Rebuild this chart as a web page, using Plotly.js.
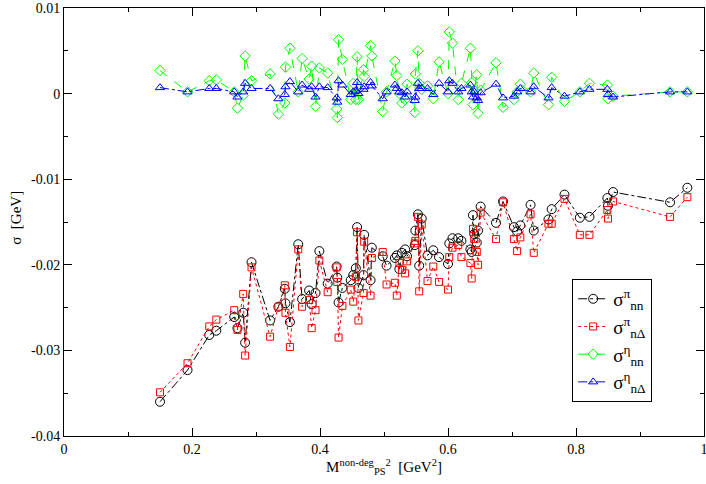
<!DOCTYPE html>
<html>
<head>
<meta charset="utf-8">
<script src="https://cdn.plot.ly/plotly-3.0.1.min.js"></script>
<style>
html,body{margin:0;padding:0;background:#fff;}
#chart{width:706px;height:484px;}
</style>
</head>
<body>
<div id="chart"></div>
<script>
// shared x values: M^2 (GeV^2)
const mass2 = [0.150,0.193,0.227,0.238,0.266,0.271,0.280,0.283,0.293,0.322,
  0.335,0.345,0.346,0.353,0.366,0.372,0.383,0.387,0.393,0.399,
  0.412,0.426,0.427,0.429,0.435,0.448,0.452,0.456,0.458,0.460,
  0.468,0.469,0.479,0.481,0.498,0.504,0.517,0.520,0.524,0.528,
  0.533,0.536,0.548,0.549,0.553,0.555,0.559,0.568,0.577,0.586,
  0.600,0.602,0.607,0.616,0.621,0.635,0.637,0.639,0.641,0.645,
  0.647,0.651,0.675,0.686,0.703,0.708,0.713,0.729,0.734,0.757,
  0.762,0.782,0.806,0.821,0.849,0.850,0.858,0.947,0.974];

const sigmaPiNN = [-0.0360,-0.0323,-0.0282,-0.0277,-0.0261,-0.0274,-0.0256,-0.0291,-0.0197,-0.0265,
  -0.0249,-0.0228,-0.0245,-0.0267,-0.0176,-0.0240,-0.0230,-0.0246,-0.0233,-0.0184,
  -0.0222,-0.0202,-0.0215,-0.0244,-0.0227,-0.0218,-0.0212,-0.0204,-0.0156,-0.0227,
  -0.0212,-0.0165,-0.0218,-0.0180,-0.0190,-0.0201,-0.0192,-0.0189,-0.0205,-0.0186,
  -0.0182,-0.0190,-0.0177,-0.0160,-0.0141,-0.0201,-0.0146,-0.0189,-0.0183,-0.0191,
  -0.0199,-0.0175,-0.0169,-0.0169,-0.0172,-0.0182,-0.0185,-0.0142,-0.0164,-0.0174,
  -0.0160,-0.0132,-0.0151,-0.0126,-0.0156,-0.0161,-0.0154,-0.0130,-0.0160,-0.0147,
  -0.0135,-0.0118,-0.0145,-0.0144,-0.0122,-0.0131,-0.0115,-0.0127,-0.0110];

const sigmaPiND = [-0.0349,-0.0315,-0.0272,-0.0264,-0.0253,-0.0276,-0.0234,-0.0306,-0.0203,-0.0284,
  -0.0249,-0.0224,-0.0256,-0.0296,-0.0182,-0.0249,-0.0241,-0.0274,-0.0253,-0.0195,
  -0.0232,-0.0203,-0.0220,-0.0285,-0.0248,-0.0229,-0.0243,-0.0214,-0.0162,-0.0265,
  -0.0233,-0.0173,-0.0236,-0.0192,-0.0185,-0.0223,-0.0221,-0.0236,-0.0198,-0.0206,
  -0.0210,-0.0196,-0.0175,-0.0172,-0.0144,-0.0231,-0.0153,-0.0219,-0.0202,-0.0220,
  -0.0229,-0.0191,-0.0180,-0.0177,-0.0191,-0.0198,-0.0216,-0.0158,-0.0170,-0.0185,
  -0.0200,-0.0139,-0.0170,-0.0127,-0.0170,-0.0184,-0.0168,-0.0141,-0.0186,-0.0152,
  -0.0152,-0.0123,-0.0165,-0.0165,-0.0136,-0.0146,-0.0126,-0.0144,-0.0121];

const sigmaEtaNN = [0.0027,0.0002,0.0015,0.0016,0.0002,-0.0017,-0.0002,0.0044,0.0015,0.0023,
  -0.0024,-0.0011,0.0031,0.0053,0.0002,0.0041,0.0017,0.0032,-0.0015,0.0030,
  0.0024,-0.0018,-0.0028,0.0063,0.0040,-0.0007,0.0012,-0.0007,0.0043,-0.0007,
  0.0028,0.0020,0.0056,0.0044,-0.0021,0.0002,0.0038,0.0021,0.0000,-0.0011,
  -0.0007,0.0011,-0.0022,0.0023,0.0050,0.0012,0.0005,0.0009,-0.0006,0.0037,
  0.0000,0.0072,0.0059,-0.0007,0.0012,0.0053,0.0013,-0.0013,0.0004,0.0022,
  -0.0023,0.0004,0.0036,-0.0016,-0.0007,0.0002,0.0011,0.0002,0.0024,-0.0013,
  0.0019,-0.0009,0.0002,0.0012,0.0010,-0.0006,-0.0003,0.0002,0.0002];

const sigmaEtaND = [0.0007,0.0002,0.0006,0.0006,0.0002,-0.0004,0.0002,0.0012,0.0006,0.0006,
  -0.0006,-0.0001,0.0008,0.0014,0.0002,0.0010,0.0005,0.0008,-0.0004,0.0008,
  0.0007,-0.0005,-0.0010,0.0015,0.0010,-0.0001,0.0002,0.0003,0.0013,0.0000,
  0.0005,0.0008,0.0013,0.0009,-0.0006,0.0002,0.0010,0.0006,0.0002,0.0001,
  -0.0004,0.0002,-0.0008,-0.0004,0.0012,0.0006,0.0006,0.0006,-0.0001,0.0012,
  0.0002,0.0015,0.0012,0.0002,0.0006,0.0010,0.0002,-0.0004,0.0002,-0.0005,
  -0.0008,0.0001,0.0011,-0.0005,-0.0003,0.0002,0.0006,0.0002,0.0008,-0.0005,
  0.0007,-0.0003,0.0002,0.0005,0.0005,-0.0001,-0.0004,0.0002,0.0002];

const xTickVals = [0,0.2,0.4,0.6,0.8,1];
const xTickText = ['0','0.2','0.4','0.6','0.8','1'];
const yTickVals = [-0.04,-0.03,-0.02,-0.01,0,0.01];
const yTickText = ['-0.04','-0.03','-0.02','-0.01','0','0.01'];

const names = ['σ<sup>π</sup><sub>nn</sub>','σ<sup>π</sup><sub>nΔ</sub>',
               'σ<sup>η</sup><sub>nn</sub>','σ<sup>η</sup><sub>nΔ</sub>'];
const xTitle = 'M<sup>non-deg</sup><sub>PS</sub><sup>2</sup>  [GeV<sup>2</sup>]';
const yTitle = 'σ  [GeV]';

const serif = '"Liberation Serif", "Times New Roman", Times, serif';

function tr(y, name, color, dash, symbol, size){
  return {x: mass2, y: y, name: name, type:'scatter', mode:'lines+markers',
    line:{color:color, width:1, dash:dash},
    marker:{symbol:symbol, size:size, color:color, line:{color:color, width:1}},
    hoverinfo:'skip'};
}

const data = [
  tr(sigmaPiNN, names[0], '#000000', 'dashdot', 'circle-open', 9),
  tr(sigmaPiND, names[1], '#ff0000', 'dot', 'square-open', 7),
  tr(sigmaEtaNN, names[2], '#00ff00', 'dash', 'diamond-open', 8),
  tr(sigmaEtaND, names[3], '#0000ff', 'dashdot', 'triangle-up-open', 8)
];

const axisCommon = {
  showgrid:false, zeroline:false, showline:true, linecolor:'#000', linewidth:1,
  mirror:'ticks', ticks:'inside', ticklen:8, tickwidth:1, tickcolor:'#000',
  ticklabeloverflow:'allow',
  tickfont:{family:serif, size:14, color:'#000'}
};

const layout = {
  width:706, height:484,
  margin:{l:64, r:2, t:8, b:48},
  paper_bgcolor:'#fff', plot_bgcolor:'#fff',
  font:{family:serif, color:'#000'},
  showlegend:true,
  xaxis: Object.assign({}, axisCommon, {
    range:[0,1], tickmode:'array', tickvals:xTickVals, ticktext:xTickText,
    minor:{dtick:0.1, tick0:0, ticks:'inside', ticklen:4, tickcolor:'#000', tickwidth:1, showgrid:false},
    title:{text:xTitle, font:{family:serif, size:15, color:'#000'}, standoff:4}
  }),
  yaxis: Object.assign({}, axisCommon, {
    range:[-0.04,0.01], tickmode:'array', tickvals:yTickVals, ticktext:yTickText,
    minor:{dtick:0.005, tick0:0, ticks:'inside', ticklen:4, tickcolor:'#000', tickwidth:1, showgrid:false}
  }),
  annotations:[{text:yTitle, xref:'paper', yref:'paper', x:-0.075, y:0.51,
    xanchor:'center', yanchor:'middle', textangle:-90, showarrow:false,
    font:{family:serif, size:15, color:'#000'}}],
  legend:{x:0.794, y:0.367, xanchor:'left', yanchor:'top',
    bordercolor:'#000', borderwidth:1, bgcolor:'#fff',
    font:{family:serif, size:19, color:'#000'}, itemwidth:30, tracegroupgap:6}
};

Plotly.newPlot('chart', data, layout, {displayModeBar:false, staticPlot:true});
</script>
</body>
</html>
